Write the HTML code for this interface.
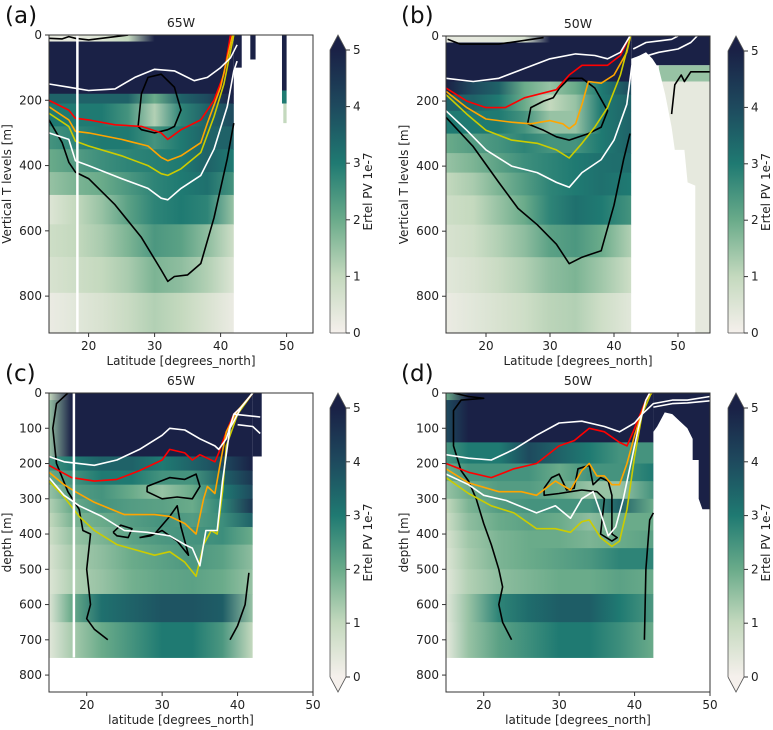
<!DOCTYPE html>
<html><head><meta charset="utf-8">
<style>
html,body{margin:0;padding:0;background:#fff;overflow:hidden;width:773px;height:730px;}
svg{display:block;font-family:"DejaVu Sans","Liberation Sans",sans-serif;}
</style></head>
<body>
<svg id="fig" width="773" height="730" viewBox="0 0 773 730" xmlns="http://www.w3.org/2000/svg"></svg>
<script>
// ---------- DATA ----------
const latA = [14,18,22,26,30,34,38,42];
const depthEdgesA = [0,20,180,210,280,350,420,490,580,680,790,913];
const pvA = [
 [0.3,0.3,0.5,1,5,5,5,5],[5,5,5,5,5,5,5,5],[3.5,3.5,3.5,3.5,2,3.5,4,5],
 [3,3,3,2.5,1.2,2.8,3.5,4],[2.5,2.8,3,3,2.5,3,3.5,3.5],[2,2.3,2.6,2.8,2.9,3,3.5,3],
 [1.5,1.8,2,2.4,2.8,3,3.2,2.5],[0.5,1,1.5,2.2,2.8,3,2.8,1.5],[0.8,1,1.3,1.8,2.4,2.2,1.6,0.8],
 [0.6,0.8,1,1.3,1.8,1.6,1.2,0.5],[0.2,0.4,0.6,0.9,1.2,1,0.6,0.2]];
const latB = [13.75,18,22,26,30,34,38,42.7];
const depthEdgesB = [0,20,140,180,230,300,360,420,490,580,680,790,913];
const pvB = [
 [0.3,0.3,0.4,0.6,5,5,5,5],[5,5,5,5,5,5,5,5],[5,4,3.5,2,1.5,2,3,4],
 [3.5,3.5,3,2,1,1.5,3,3.5],[3,3,3,2.5,1.5,1.5,3,3.5],[2,2.3,2.5,2.8,2.5,2.5,3,3.5],
 [1.5,1.8,2.2,2.6,2.8,3,3.2,3.3],[1,1.3,1.8,2.3,2.8,3,3.2,3],[0.8,1,1.5,2,2.8,3.2,3,2.5],
 [0.6,0.8,1.2,1.6,2.2,2.4,2,1.2],[0.4,0.6,0.9,1.2,1.6,1.8,1.4,0.8],[0.2,0.4,0.6,0.8,1.1,1.2,0.8,0.4]];
const latC = [15,18,22,26,30,34,38,42];
const depthEdgesC = [0,20,180,220,260,300,340,380,430,500,570,650,750];
const pvC = [
 [1,5,5,5,5,5,5,5],[1.5,5,5,5,5,5,5,5],[2.5,3,3.5,3.5,3,3.5,4,5],
 [2,2.5,3,3,2.5,2.5,3.5,4.5],[1.5,2.3,2.5,2,1.5,2,3,4],[1.2,2,2.5,2.3,2.2,2,2.8,4.5],
 [1,1.8,2,2.3,2.5,2.3,2.6,3.5],[0.8,1.5,1.8,2.2,2.4,2.5,2.6,2],[0.6,1.3,1.6,2,2.2,2.4,2.2,1.6],
 [0.5,1.2,1.5,1.9,2.1,2.2,2,1.5],[0.5,2,3.2,3.5,3.8,3.8,3.6,1.5],[0.4,1.3,2,2.5,3,3,2.4,1]];
const latD = [15,18,22,26,30,34,38,42.5];
const depthEdgesD = [0,20,140,200,250,300,340,390,440,500,570,650,750];
const pvD = [
 [2,5,5,5,5,5,5,5],[4,5,5,5,5,5,5,5],[2.5,3,3,4,3.5,3,2.5,2.5],
 [2,2.5,2.5,2.5,2,2.5,2.5,3],[1.5,2,2.3,2.3,2,1.5,1.5,2.5],[1,1.8,2.3,2.5,2.5,2.5,3.5,2],
 [0.8,1.6,2,2.2,2,1.6,2,2],[0.6,1.4,1.8,2,2,1.8,2,2.2],[0.5,1.3,1.8,2,2.2,2.4,2.8,2.8],
 [0.4,1.2,1.6,1.8,2,2,2.2,2],[0.4,1.5,2.8,3.3,3.6,3.6,3,2.4],[0.3,1.5,2.2,2.6,3,3,2.6,2]];

// contours [lat, depth]
const contA = {
 black:[[[14,10],[16,12],[17,5],[18,10],[20,15],[26,0]],
  [[14,260],[16,330],[17,390],[18,420],[20,440],[24,520],[28,620],[31,720],[32,755],[33,740],[35,735],[37,700],[39,560],[41,380],[42,270]],
  [[27.5,280],[28,180],[29,130],[31,120],[33,160],[34,230],[33,280],[32,290],[30,300],[28,290],[27.5,280]]],
 white:[[[14,150],[17,160],[20,170],[24,165],[27,130],[30,105],[33,110],[36,140],[38,130],[40,100],[41.5,70],[42.5,30]],
  [[14,300],[17,320],[18,385],[20,400],[25,440],[29,470],[31,500],[32,505],[34,470],[37,430],[39,350],[41,220],[42,110],[42.5,80]]],
 red:[[[14,200],[17,230],[18,255],[20,260],[24,275],[28,280],[31,300],[32,320],[34,290],[37,260],[39,200],[40.5,120],[41.5,0]]],
 orange:[[[14,220],[17,260],[18,295],[20,300],[25,320],[29,340],[31,375],[32,385],[34,370],[37,330],[38,270],[40,160],[41.8,0]]],
 gold:[[[14,240],[17,280],[18,325],[20,340],[25,370],[29,400],[31,425],[32,430],[34,410],[37,360],[39,250],[40.5,150],[42,0]]]
};
const contB = {
 black:[[[14,10],[16,25],[22,25],[29,5]],
  [[13.75,250],[18,340],[22,450],[25,530],[28,580],[31,640],[33,700],[35,680],[38,660],[40,520],[41.5,380],[42.5,300]],
  [[26.5,270],[27,220],[29,200],[30.5,190],[31.5,160],[33,130],[35,130],[37,160],[39,230],[38,280],[36,300],[33,320],[31,310],[29,290],[26.5,270]],
  [[49,240],[49.5,150],[50.5,120],[51,140],[52,110],[55,110]]],
 white:[[[13.75,130],[18,140],[22,130],[26,100],[30,70],[34,55],[37,60],[39,70],[41,50],[42.5,0]],
  [[43,40],[45,20],[47,15],[49,10],[50,0]],[[43.5,70],[47,50],[50,40],[52,20],[53,0]],
  [[13.75,230],[17,290],[20,350],[24,400],[28,420],[31,450],[33,465],[35,420],[38,380],[40,320],[42,210],[42.8,90]]],
 red:[[[13.75,160],[17,200],[20,220],[23,220],[26,190],[30,170],[31,165],[33,120],[35,90],[37,90],[39,90],[41,60],[42.5,0]]],
 orange:[[[13.75,170],[17,220],[20,255],[24,265],[27,270],[30,260],[32,270],[33,285],[34,270],[35,210],[36,140],[38,145],[40,120],[42,50],[42.6,0]]],
 gold:[[[13.75,180],[17,240],[20,290],[24,320],[28,330],[31,350],[33,375],[35,330],[37,280],[39,220],[41,120],[42.6,0]]]
};
const contC = {
 black:[[[17.5,0],[16,30],[15.5,100],[16,200],[17.5,280],[19,330],[19.5,390],[20.5,400],[20,500],[20.5,600],[20,640],[21,670],[22.8,700]],
  [[28,265],[31,240],[33,245],[34.5,230],[35,265],[34,300],[32,295],[30,300],[28,280],[28,265]],
  [[27,410],[29,400],[31,350],[32,320],[32.5,380],[33,420],[33.5,460],[32,420],[30,390],[28.5,405],[27,410]],
  [[23.5,395],[24.5,375],[26,385],[25.5,410],[24,405],[23.5,395]],
  [[39,700],[40,660],[41,600],[41.5,510]]],
 white:[[[15,180],[17,195],[21,205],[24,190],[27,160],[30,120],[31,100],[33,105],[35,130],[37,150],[37.5,160],[38.5,130],[39.5,60],[40.5,40],[42,0]],
  [[39.5,60],[43,68]],[[40,90],[42,95],[43,115]],
  [[15,240],[17,290],[19,320],[22,350],[25,390],[28,395],[31,405],[33,430],[34,440],[35,490],[35.8,390],[37.3,390],[38,250],[39,100],[40.5,40],[42,0]]],
 red:[[[15,205],[18,240],[21,250],[24,245],[27,220],[30,190],[31,160],[33,170],[34,190],[35,175],[36,185],[37,195],[37.5,170],[38.5,110],[39.5,60],[41,30],[42,0]]],
 orange:[[[15,225],[17,260],[18.5,280],[21,310],[25,345],[29,345],[31,350],[33,370],[34.5,400],[35.5,300],[36,265],[37,285],[37.7,200],[38.5,110],[40,50],[42,0]]],
 gold:[[[15,250],[17,295],[19,350],[21,390],[24,430],[29,460],[31,450],[33,480],[34.5,520],[35.5,430],[36.5,390],[37.3,400],[38,280],[38.5,150],[40,60],[42,0]]]
};
const contD = {
 black:[[[16,0],[18,10],[20,15],[17,20],[16,50],[16,150],[17,220],[18,250],[19,300],[20,370],[21,430],[22,500],[22.5,550],[22,600],[22.5,650],[23.7,700]],
  [[28,270],[29,240],[30,230],[31,275],[32,270],[32.5,215],[34,205],[34.5,260],[35.5,240],[36.5,250],[37,290],[37,400],[37.7,410],[37,420],[35.5,400],[36,300],[35,280],[33,275],[31.5,280],[30,285],[28,290],[28,270]],
  [[41.3,700],[41.5,500],[42,360],[42.5,340]]],
 white:[[[15,175],[18,185],[21,190],[24,160],[27,120],[30,85],[33,80],[36,95],[38,110],[40,85],[41,60],[42.5,30],[45,20],[47,20],[50,10]],
  [[42.5,40],[45,30],[47,28],[50,22]],
  [[15,230],[18,260],[20,290],[23,305],[27,340],[29.5,320],[31.5,355],[33,300],[34.5,280],[35.5,340],[36.5,405],[37.5,380],[38.5,300],[39.5,200],[40.5,100],[41.5,20],[42,0]]],
 red:[[[15,200],[18,225],[21,240],[24,215],[27,200],[30,150],[32,135],[34,100],[36,110],[38,140],[39,150],[40,100],[41.5,20],[42,0]]],
 orange:[[[15,215],[18,255],[22,280],[25,280],[27,290],[29.5,250],[31.5,275],[33,220],[34,200],[35,235],[36,235],[37,260],[38,260],[39,200],[40,120],[41.5,20],[42.3,0]]],
 gold:[[[15,240],[18,285],[21,320],[24,340],[27,385],[29.5,385],[31.5,395],[33,365],[34,360],[35.5,410],[37,435],[38,420],[39,330],[40,180],[41,60],[42.2,0]]]
};
const xTicks = [20,30,40,50];
const yTicksTop = [0,200,400,600,800];
const yTicksBot = [0,100,200,300,400,500,600,700,800];
const cbTicks = [0,1,2,3,4,5];

// ---------- RENDER ----------
const NS="http://www.w3.org/2000/svg";
const svg=document.getElementById('fig');
function mk(tag,attrs,parent){const e=document.createElementNS(NS,tag);for(const k in attrs)e.setAttribute(k,attrs[k]);(parent||svg).appendChild(e);return e;}
const cmapStops=[[0,[245,240,236]],[1,[196,217,190]],[2,[106,171,138]],[3,[31,122,114]],[4,[30,74,94]],[5,[26,33,70]]];
function cmap(v){v=Math.max(0,Math.min(5,v));for(let i=0;i<cmapStops.length-1;i++){const a=cmapStops[i],b=cmapStops[i+1];if(v<=b[0]){const t=(v-a[0])/(b[0]-a[0]);return 'rgb('+a[1].map((c,j)=>Math.round(c+(b[1][j]-c)*t)).join(',')+')';}}return 'rgb(26,33,70)';}
const lineColors={black:'#000000',white:'#ffffff',red:'#ff0000',orange:'#ffa500',gold:'#cccc00'};
let gid=0;
function panel(cfg){
 const g=mk('g',{});
 
 
 const X=l=>cfg.x0+(l-cfg.lat0)/(cfg.lat1-cfg.lat0)*(cfg.x1-cfg.x0);
 const Y=d=>cfg.y0+d/cfg.dmax*(cfg.y1-cfg.y0);
 const defs=mk('defs',{},g);
 const cp=mk('clipPath',{id:'clip'+cfg.id},defs);
 mk('rect',{x:cfg.x0,y:cfg.y0,width:cfg.x1-cfg.x0,height:cfg.y1-cfg.y0},cp);
 const hm=mk('g',{'clip-path':'url(#clip'+cfg.id+')'},g);
 
 
 const lats=cfg.lats;
 cfg.pv.forEach((row,i)=>{
  const id='gr'+(gid++);
  const lg=mk('linearGradient',{id:id,gradientUnits:'userSpaceOnUse',x1:X(lats[0]),x2:X(lats[lats.length-1]),y1:0,y2:0},defs);
  row.forEach((v,j)=>mk('stop',{offset:(lats[j]-lats[0])/(lats[lats.length-1]-lats[0]),'stop-color':cmap(v)},lg));
  const r=mk('rect',{x:X(lats[0]),y:Y(cfg.edges[i]),width:X(lats[lats.length-1])-X(lats[0]),height:Y(cfg.edges[i+1])-Y(cfg.edges[i])+0.5,fill:'url(#'+id+')'},hm);
  
  
 });
 if(cfg.extra)cfg.extra(hm,X,Y);
 const cl=mk('g',{'clip-path':'url(#clip'+cfg.id+')',fill:'none','stroke-width':1.6,'stroke-linejoin':'round'},g);
 for(const key of ['black','red','orange','gold','white']){
  (cfg.cont[key]||[]).forEach(pts=>{
   const p=mk('polyline',{points:pts.map(q=>X(q[0]).toFixed(1)+','+Y(q[1]).toFixed(1)).join(' '),stroke:lineColors[key]},cl);
   
   
  });
 }
 if(cfg.vline){const v=mk('line',{x1:X(cfg.vline),x2:X(cfg.vline),y1:cfg.y0,y2:cfg.vlineEnd?Y(cfg.vlineEnd):cfg.y1,stroke:'#fff','stroke-width':2.5},g);}
 const fr=mk('rect',{x:cfg.x0,y:cfg.y0,width:cfg.x1-cfg.x0,height:cfg.y1-cfg.y0,fill:'none',stroke:'#333','stroke-width':1},g);
 
 const ax=mk('g',{'font-size':12,fill:'#222'},g);
 
 xTicks.forEach(t=>{if(t<cfg.lat0||t>cfg.lat1)return;mk('line',{x1:X(t),x2:X(t),y1:cfg.y1,y2:cfg.y1+4,stroke:'#333'},ax);const tx=mk('text',{x:X(t),y:cfg.y1+17,'text-anchor':'middle'},ax);tx.textContent=t;});
 const xl=mk('text',{x:(cfg.x0+cfg.x1)/2,y:cfg.y1+32,'text-anchor':'middle','font-size':12,fill:'#222'},g);xl.textContent=cfg.xlabel;
 
 const ay=mk('g',{'font-size':12,fill:'#222'},g);
 
 cfg.yt.forEach(t=>{mk('line',{x1:cfg.x0-4,x2:cfg.x0,y1:Y(t),y2:Y(t),stroke:'#333'},ay);const tx=mk('text',{x:cfg.x0-7,y:Y(t)+4,'text-anchor':'end'},ay);tx.textContent=t;});
 const yl=mk('text',{transform:'translate('+(cfg.x0-38)+','+((cfg.y0+cfg.y1)/2)+') rotate(-90)','text-anchor':'middle','font-size':12,fill:'#222'},g);yl.textContent=cfg.ylabel;
 
 const ti=mk('text',{x:(cfg.x0+cfg.x1)/2,y:cfg.y0-8,'text-anchor':'middle','font-size':12.5,fill:'#222'},g);ti.textContent=cfg.title;
 
 const pl=mk('text',{x:cfg.lx,y:cfg.ly,'font-size':23,fill:'#111'},g);pl.textContent='('+cfg.id+')';
 
 // colorbar
 const cb=mk('g',{},g);
 
 const bx=cfg.cbx,bw=16,tri=15;
 const top=cfg.y0+tri,bot=cfg.both?cfg.y1-tri:cfg.y1;
 const cid='cb'+cfg.id;
 const lg=mk('linearGradient',{id:cid,x1:0,x2:0,y1:1,y2:0},defs);
 cbTicks.forEach(v=>mk('stop',{offset:v/5,'stop-color':cmap(v)},lg));
 mk('rect',{x:bx,y:top,width:bw,height:bot-top,fill:'url(#'+cid+')'},cb);
 mk('polygon',{points:`${bx},${top} ${bx+bw/2},${cfg.y0} ${bx+bw},${top}`,fill:cmap(5)},cb);
 let outline=`${bx},${bot} ${bx},${top} ${bx+bw/2},${cfg.y0} ${bx+bw},${top} ${bx+bw},${bot}`;
 if(cfg.both){mk('polygon',{points:`${bx},${bot} ${bx+bw/2},${cfg.y1} ${bx+bw},${bot}`,fill:cmap(0)},cb);outline+=` ${bx+bw/2},${cfg.y1} ${bx},${bot}`;}else outline+=` ${bx},${bot}`;
 mk('polyline',{points:outline,fill:'none',stroke:'#555','stroke-width':0.8},cb);
 cbTicks.forEach(v=>{const yy=bot-(v/5)*(bot-top);mk('line',{x1:bx+bw,x2:bx+bw+4,y1:yy,y2:yy,stroke:'#333'},cb);const t=mk('text',{x:bx+bw+7,y:yy+4,'font-size':12,fill:'#222'},cb);t.textContent=v;});
 const cl2=mk('text',{transform:'translate('+(bx+bw+26)+','+((top+bot)/2)+') rotate(-90)','text-anchor':'middle','font-size':12,fill:'#222'},cb);cl2.textContent='Ertel PV 1e-7';
}
panel({id:'a',x0:49,x1:313,y0:35,y1:333,lat0:14,lat1:54,dmax:913,lats:latA,edges:depthEdgesA,pv:pvA,cont:contA,yt:yTicksTop,
 xlabel:'Latitude [degrees_north]',ylabel:'Vertical T levels [m]',title:'65W',lx:5,ly:23,cbx:330,both:false,vline:18.3,
 extra:(g,X,Y)=>{[[42,43.2,0,100,5],[44.5,45.3,0,75,5],[49.3,50,0,170,5],[49.3,50,170,210,3],[49.5,50,210,270,1]].forEach(c=>{const r=mk('rect',{x:X(c[0]),y:Y(c[2]),width:X(c[1])-X(c[0]),height:Y(c[3])-Y(c[2]),fill:cmap(c[4])},g);});}});
panel({id:'b',x0:446,x1:710,y0:36,y1:333,lat0:13.75,lat1:55,dmax:913,lats:latB,edges:depthEdgesB,pv:pvB,cont:contB,yt:yTicksTop,
 xlabel:'Latitude [degrees_north]',ylabel:'Vertical T levels [m]',title:'50W',lx:401,ly:23,cbx:728,both:false,
 extra:(g,X,Y)=>{
  [[42.7,55,0,90,5],[47,55,90,140,1.5],[47,55,140,913,0.3]].forEach(c=>{const r=mk('rect',{x:X(c[0]),y:Y(c[2]),width:X(c[1])-X(c[0]),height:Y(c[3])-Y(c[2]),fill:cmap(c[4])},g);});
  const pts=[[42.7,913],[42.7,70],[44,60],[45,50],[46,70],[47,100],[48,180],[49,280],[49.5,350],[51,350],[51.5,450],[52.7,460],[52.7,913]];
  const p=mk('polygon',{points:pts.map(q=>X(q[0])+','+Y(q[1])).join(' '),fill:'#fff'},g);}});
panel({id:'c',x0:49,x1:313,y0:393,y1:692,lat0:15,lat1:50,dmax:848,lats:latC,edges:depthEdgesC,pv:pvC,cont:contC,yt:yTicksBot,
 xlabel:'latitude [degrees_north]',ylabel:'depth [m]',title:'65W',lx:5,ly:381,cbx:330,both:true,vline:18.3,vlineEnd:750,
 extra:(g,X,Y)=>{const r=mk('rect',{x:X(42),y:Y(0),width:X(43.2)-X(42),height:Y(180)-Y(0),fill:cmap(5)},g);}});
panel({id:'d',x0:446,x1:710,y0:393,y1:692,lat0:15,lat1:50,dmax:848,lats:latD,edges:depthEdgesD,pv:pvD,cont:contD,yt:yTicksBot,
 xlabel:'latitude [degrees_north]',ylabel:'depth [m]',title:'50W',lx:401,ly:381,cbx:728,both:true,
 extra:(g,X,Y)=>{
  const r=mk('rect',{x:X(42.5),y:Y(0),width:X(50)-X(42.5),height:Y(330)-Y(0),fill:cmap(5)},g);
  const pts=[[42.5,750],[42.5,110],[43,95],[44,55],[45,60],[46,80],[47,100],[47.7,130],[47.7,190],[48.5,190],[48.5,300],[49,330],[50,330],[50,750]];
  const p=mk('polygon',{points:pts.map(q=>X(q[0])+','+Y(q[1])).join(' '),fill:'#fff'},g);}});
</script>
</body></html>
